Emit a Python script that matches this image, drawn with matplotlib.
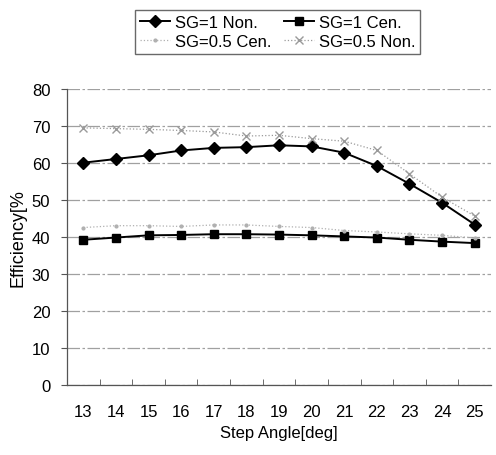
import matplotlib
matplotlib.use('Agg')
import matplotlib.pyplot as plt
from matplotlib.ticker import MultipleLocator, FixedLocator

plt.rcParams['font.family'] = ['Liberation Sans', 'DejaVu Sans']

# Step angle categories and efficiency values
angles = [13, 14, 15, 16, 17, 18, 19, 20, 21, 22, 23, 24, 25]
sg1_non = [60.0, 61.0, 62.0, 63.3, 64.0, 64.2, 64.7, 64.4, 62.7, 59.1, 54.3, 49.2, 43.3]
sg1_cen = [39.2, 39.8, 40.4, 40.5, 40.7, 40.7, 40.6, 40.4, 40.1, 39.8, 39.2, 38.7, 38.3]
sg05_cen = [42.5, 43.0, 43.0, 42.8, 43.2, 43.2, 42.8, 42.5, 41.7, 41.3, 40.8, 40.4, 39.7]
sg05_non = [69.4, 69.2, 69.0, 68.7, 68.3, 67.2, 67.4, 66.5, 65.8, 63.3, 57.0, 50.7, 45.6]

fig = plt.figure(figsize=(4.96, 4.56), dpi=100)
ax = fig.add_axes([0.135, 0.1535, 0.855, 0.65])

# gridlines first so the series sit on top
ax.set_ylim(0, 80)
ax.set_xlim(12.5, 25.5)
ax.yaxis.set_major_locator(MultipleLocator(10))
ax.grid(axis='y', color='#a0a0a0', linewidth=0.9, linestyle=(0, (10, 2, 2, 2)))
ax.set_axisbelow(True)

l1, = ax.plot(angles, sg1_non, color='black', linewidth=1.4, marker='D',
              markersize=6, label='SG=1 Non.')
l2, = ax.plot(angles, sg1_cen, color='black', linewidth=1.4, marker='s',
              markersize=6, label='SG=1 Cen.')
l3, = ax.plot(angles, sg05_cen, color='#b0b0b0', linewidth=0.9, linestyle=':',
              marker='.', markersize=4, label='SG=0.5 Cen.')
l4, = ax.plot(angles, sg05_non, color='#9a9a9a', linewidth=0.9, linestyle=':',
              marker='x', markersize=6, label='SG=0.5 Non.')

# Excel-style category axis: labels at centers, ticks between
ax.set_xticks(angles)
ax.xaxis.set_minor_locator(FixedLocator([a + 0.5 for a in angles[:-1]]))
ax.tick_params(axis='x', which='major', length=0, pad=14, labelsize=12)
ax.tick_params(axis='x', which='minor', direction='in', length=4, color='#555555')
ax.tick_params(axis='y', length=4, direction='out', color='#555555', labelsize=12, pad=8)

for side in ['top', 'right']:
    ax.spines[side].set_visible(False)
for side in ['left', 'bottom']:
    ax.spines[side].set_color('#555555')
    ax.spines[side].set_linewidth(0.9)

ax.set_xlabel('Step Angle[deg]', fontsize=12, labelpad=4)
ax.set_ylabel('Efficiency[%', fontsize=13, labelpad=4)

# row-wise order like the original: ncol=2 fills by column
fig.legend(handles=[l1, l3, l2, l4], ncol=2, loc='upper center',
           bbox_to_anchor=(0.56, 0.995), fontsize=12, frameon=True,
           fancybox=False, edgecolor='#444444', handlelength=1.8,
           columnspacing=0.7, handletextpad=0.3, borderpad=0.3,
           labelspacing=0.25)

fig.savefig('out.png', dpi=100)
